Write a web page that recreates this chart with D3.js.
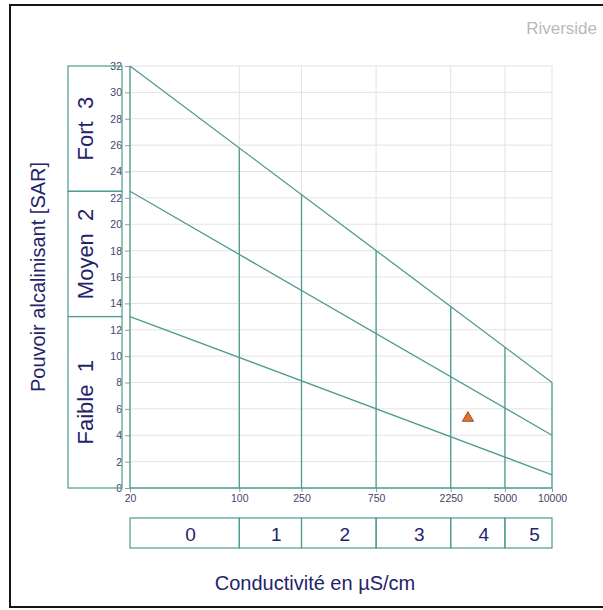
<!DOCTYPE html>
<html>
<head>
<meta charset="utf-8">
<script src="https://cdn.jsdelivr.net/npm/d3@7"></script>
<style>
  html, body { margin: 0; padding: 0; background: #fff; }
  svg { display: block; font-family: "Liberation Sans", Arial, sans-serif; }
</style>
</head>
<body>
<svg id="chart" width="603" height="610"></svg>
<script>
// Conductivity (µS/cm) tick positions on the log axis
const condTicks = [20, 100, 250, 750, 2250, 5000, 10000];
// SAR tick labels
const sarTicks = [0, 2, 4, 6, 8, 10, 12, 14, 16, 18, 20, 22, 24, 26, 28, 30, 32];

// Class boundary lines: [conductivity, SAR] endpoints
const lineLow  = [[20, 13],   [10000, 1]];
const lineMid  = [[20, 22.5], [10000, 4]];
const lineHigh = [[20, 32],   [10000, 8]];

// Vertical salinity-class dividers and the SAR where each meets the upper line
const dividerCond = [20, 100, 250, 750, 2250, 5000, 10000];
const dividerTop  = [32, 25.8, 22.25, 18.0, 13.77, 10.68, 8];

// Alkalinity classes (left boxes)
const sarClassLabels = ["Faible  1", "Moyen  2", "Fort  3"];
const sarClassBounds = [0, 13, 22.5, 32];

// Salinity classes (bottom boxes)
const condClassLabels = ["0", "1", "2", "3", "4", "5"];
const condClassBounds = [20, 100, 250, 750, 2250, 5000, 10000];

// Measured sample
const sampleCond = [2900];
const sampleSar  = [5.3];

const teal = "#4e9b8f";
const navy = "#23236c";
const tickText = "#43456b";
const gridCol = "#e3e3e3";

const svg = d3.select("#chart");

// Outer frame (right edge runs past the page)
svg.append("rect")
  .attr("x", 10).attr("y", 5)
  .attr("width", 700).attr("height", 602)
  .attr("fill", "none").attr("stroke", "#151515").attr("stroke-width", 2);

const x = d3.scaleLog().domain([20, 10000]).range([130, 552]);
const y = d3.scaleLinear().domain([0, 32]).range([488, 66]);

// Grid
const grid = svg.append("g");
grid.selectAll(".hg").data(sarTicks).join("line")
  .attr("x1", x(20)).attr("x2", x(10000))
  .attr("y1", d => y(d)).attr("y2", d => y(d))
  .attr("stroke", gridCol).attr("stroke-width", 1);
grid.selectAll(".vg").data(condTicks).join("line")
  .attr("x1", d => x(d)).attr("x2", d => x(d))
  .attr("y1", y(0)).attr("y2", y(32))
  .attr("stroke", gridCol).attr("stroke-width", 1);

// Y axis
const yAxis = d3.axisLeft(y).tickValues(sarTicks).tickSize(5).tickPadding(3).tickFormat(d3.format("d"));
const gy = svg.append("g").attr("transform", `translate(${x(20)},0)`).call(yAxis);
gy.select(".domain").remove();
gy.selectAll(".tick line").attr("stroke", "#999");
gy.selectAll(".tick text").attr("fill", tickText).style("font-size", "10.5px")
  .style("font-family", "Liberation Sans, Arial, sans-serif");

// X axis
const xAxis = d3.axisBottom(x).tickValues(condTicks).tickSize(4).tickPadding(3).tickFormat(d3.format("d"));
const gx = svg.append("g").attr("transform", `translate(0,${y(0)})`).call(xAxis);
gx.select(".domain").remove();
gx.selectAll(".tick line").attr("stroke", "#999");
gx.selectAll(".tick text").attr("fill", tickText).style("font-size", "10.5px")
  .style("font-family", "Liberation Sans, Arial, sans-serif");

// Vertical dividers up to the upper class line
svg.append("g").selectAll("line").data(dividerCond).join("line")
  .attr("x1", d => x(d)).attr("x2", d => x(d))
  .attr("y1", y(0)).attr("y2", (d, i) => y(dividerTop[i]))
  .attr("stroke", teal).attr("stroke-width", 1.3);

// Bottom baseline
svg.append("line")
  .attr("x1", x(20)).attr("x2", x(10000))
  .attr("y1", y(0)).attr("y2", y(0))
  .attr("stroke", teal).attr("stroke-width", 1.3);

// Sloped class lines
const line = d3.line().x(d => x(d[0])).y(d => y(d[1]));
svg.append("g").selectAll("path").data([lineLow, lineMid, lineHigh]).join("path")
  .attr("d", line).attr("fill", "none")
  .attr("stroke", teal).attr("stroke-width", 1.3);

// Left class boxes
const leftBox = svg.append("g");
sarClassLabels.forEach((lab, i) => {
  const y0 = y(sarClassBounds[i]), y1 = y(sarClassBounds[i + 1]);
  leftBox.append("rect")
    .attr("x", 68).attr("y", y1)
    .attr("width", 54).attr("height", y0 - y1)
    .attr("fill", "none").attr("stroke", teal).attr("stroke-width", 1.2);
  leftBox.append("text")
    .attr("transform", `translate(93,${(y0 + y1) / 2}) rotate(-90)`)
    .attr("text-anchor", "middle")
    .attr("fill", navy).style("font-size", "22px")
    .style("white-space", "pre")
    .text(lab);
});

// Bottom class boxes
const botBox = svg.append("g");
condClassLabels.forEach((lab, i) => {
  const x0 = x(condClassBounds[i]), x1 = x(condClassBounds[i + 1]);
  botBox.append("rect")
    .attr("x", x0).attr("y", 518)
    .attr("width", x1 - x0).attr("height", 30)
    .attr("fill", "none").attr("stroke", teal).attr("stroke-width", 1.2);
  botBox.append("text")
    .attr("x", (x0 + x1) / 2 + 6).attr("y", 541)
    .attr("text-anchor", "middle")
    .attr("fill", navy).style("font-size", "19px")
    .text(lab);
});

// Sample marker
svg.append("g").selectAll("path").data(sampleCond).join("path")
  .attr("d", d3.symbol().type(d3.symbolTriangle).size(55))
  .attr("transform", (d, i) => `translate(${x(d)},${y(sampleSar[i])})`)
  .attr("fill", "#e0722b").attr("stroke", "#8a3b12").attr("stroke-width", 0.8);

// Axis titles
svg.append("text")
  .attr("transform", `translate(45,${(y(0) + y(32)) / 2}) rotate(-90)`)
  .attr("text-anchor", "middle")
  .attr("fill", navy).style("font-size", "20px")
  .text("Pouvoir alcalinisant [SAR]");

svg.append("text")
  .attr("x", 315).attr("y", 590)
  .attr("text-anchor", "middle")
  .attr("fill", navy).style("font-size", "20px")
  .text("Conductivité en µS/cm");

// Station name
svg.append("text")
  .attr("x", 597).attr("y", 34)
  .attr("text-anchor", "end")
  .attr("fill", "#b9b9b9").style("font-size", "17px")
  .text("Riverside");
</script>
</body>
</html>
